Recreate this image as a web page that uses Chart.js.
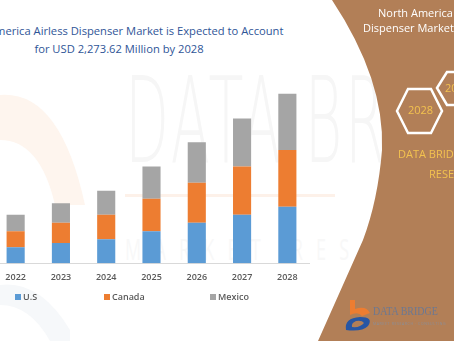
<!DOCTYPE html>
<html>
<head>
<meta charset="utf-8">
<script src="https://cdn.jsdelivr.net/npm/chart.js@4.4.1/dist/chart.umd.min.js"></script>
<style>
  html, body { margin: 0; padding: 0; }
  body { width: 454px; height: 341px; overflow: hidden; position: relative; background: #fff; font-family: "Open Sans", sans-serif; }
  .abs { position: absolute; }
  #watermark { left: 125px; top: 52px; font-family: "DejaVu Sans", sans-serif; font-weight: 200; font-size: 119px; color: #f6f6f6; transform: scaleX(0.48); transform-origin: left top; white-space: nowrap; letter-spacing: 6px; }
  #wmSub { left: 125px; top: 228px; font-size: 30px; color: #f8f8f8; letter-spacing: 22px; white-space: nowrap; transform: scaleX(0.6); transform-origin: left top; }
  #chartBox { left: -7px; top: 0; width: 317px; height: 298px; }
  .title { width: 400px; text-align: center; color: #2f5597; font-size: 11.2px; white-space: nowrap; }
  .legItem { top: 290px; font-size: 9px; font-weight: 600; color: #595959; white-space: nowrap; }
  .legItem i { display: inline-block; width: 6px; height: 6px; margin-right: 2px; vertical-align: 0px; }
  .panelTxt { color: #fff; font-size: 11px; white-space: nowrap; }
  .gold { color: #f3c24f; font-size: 11px; white-space: nowrap; }
</style>
</head>
<body>
<!-- faint background marks -->
<svg class="abs" style="left:0;top:0" width="454" height="341">
  <path d="M0,95 Q60,90 85,205 L55,205 Q40,140 0,140 Z" fill="#fef5ee"/>
  <path d="M0,285 Q40,280 70,330 L70,341 L50,341 Q30,305 0,305 Z" fill="#f6f8fa"/>
  <rect x="125" y="194" width="210" height="3" fill="#fdf1e9"/>
</svg>
<div id="watermark" class="abs">DATA BRIDGE</div>
<div id="wmSub" class="abs">MARKET RESEARCH</div>

<div class="abs title" style="left:-81px; top:23px;">North America Airless Dispenser Market is Expected to Account</div>
<div class="abs title" style="left:-81px; top:41px;">for USD 2,273.62 Million by 2028</div>

<div id="chartBox" class="abs"><canvas id="barChart"></canvas></div>

<div id="legend"></div>

<!-- right side panel -->
<svg class="abs" style="left:0;top:0" width="454" height="341">
  <path d="M332,0 L454,0 L454,341 L318,341 L363,240 Q378,200 382,150 Q385,80 332,0 Z" fill="#b27f57"/>
  <polygon points="397,111 408,89 431,89 442,111 431,133 408,133" fill="none" stroke="#fff" stroke-width="2.5"/>
  <polygon points="437,88 447,72 466,72 476,88 466,105 447,105" fill="none" stroke="#fff" stroke-width="2.5"/>
  <!-- logo -->
  <path d="M350,300 L355,300 L355,309 Q366,305 370,313 L362,316 Q358,311 350,315 Z" fill="#ed7d31"/>
  <path d="M346,330 Q344,318 360,317 Q374,317 368,326 Q362,332 346,330 Z M352,327 Q360,328 364,323 Q362,320 356,321 Q351,323 352,327 Z" fill="#2756a4" fill-rule="evenodd"/>
</svg>
<div class="abs panelTxt" style="left:378px; top:5px;">North America Airless</div>
<div class="abs panelTxt" style="left:363px; top:20px;">Dispenser Market Size</div>
<div class="abs gold" style="left:408px; top:102px;">2028</div>
<div class="abs gold" style="left:445px; top:80px;">2029</div>
<div class="abs gold" style="left:398px; top:146px;">DATA BRIDGE MARKET</div>
<div class="abs gold" style="left:429px; top:166px;">RESEARCH</div>
<div class="abs" style="left:373px; top:304px; font-family:'Liberation Serif',serif; font-size:12px; color:#6b7893; transform:scaleX(0.83); transform-origin:left top; white-space:nowrap;">DATA BRIDGE</div>
<div class="abs" style="left:373px; top:321px; font-size:3.5px; color:#8a8f99; letter-spacing:0.6px; white-space:nowrap;">MARKET RESEARCH &middot; CONSULTING</div>

<script>
// データ (単位: 百万USD, 画像から読み取り)
const years = ['2022', '2023', '2024', '2025', '2026', '2027', '2028'];
const usValues = [214, 271, 321, 428, 543, 650, 757];
const canadaValues = [214, 271, 329, 436, 535, 647, 762];
const mexicoValues = [222, 263, 321, 433, 544, 646, 754];
const seriesNames = ['U.S', 'Canada', 'Mexico'];
const seriesColors = ['#5b9bd5', '#ed7d31', '#a5a5a5'];

const seriesValues = [usValues, canadaValues, mexicoValues];

const ctx = document.getElementById('barChart').getContext('2d');
const barChart = new Chart(ctx, {
    type: 'bar',
    data: {
        labels: years,
        datasets: seriesNames.map((name, i) => ({
            label: name,
            data: seriesValues[i],
            backgroundColor: seriesColors[i],
            barPercentage: 0.4,
            categoryPercentage: 1
        }))
    },
    options: {
        responsive: true,
        maintainAspectRatio: false,
        animation: false,
        layout: { padding: { top: 62, bottom: 6, left: 0, right: 0 } },
        plugins: {
            legend: { display: false },
            tooltip: { enabled: false }
        },
        scales: {
            x: {
                stacked: true,
                grid: { display: false, drawTicks: false, tickLength: 0 },
                border: { display: true, color: '#d9d9d9', width: 1 },
                ticks: { color: '#595959', padding: 9, font: { family: 'Open Sans', size: 9, weight: '600' } }
            },
            y: {
                stacked: true,
                display: false,
                min: 0,
                max: 2700
            }
        }
    }
});

// 凡例 (HTML)
const legendLeft = [15, 104, 210];
const legendEl = document.getElementById('legend');
barChart.data.datasets.forEach((ds, i) => {
    const item = document.createElement('div');
    item.className = 'abs legItem';
    item.style.left = legendLeft[i] + 'px';
    item.innerHTML = '<i style="background:' + ds.backgroundColor + '"></i>' + ds.label;
    legendEl.appendChild(item);
});
</script>
</body>
</html>
